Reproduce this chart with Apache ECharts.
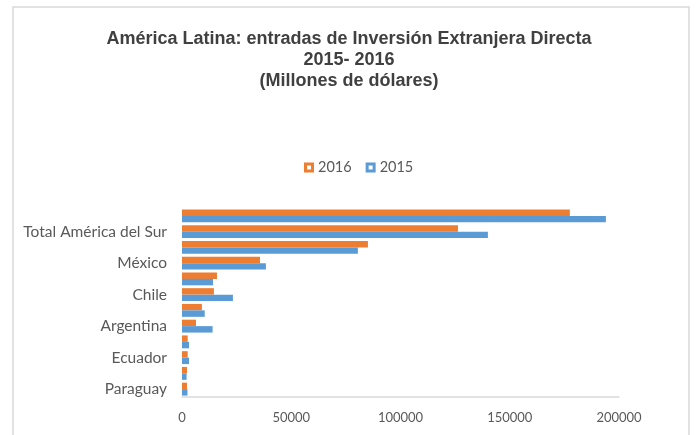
<!DOCTYPE html>
<html>
<head>
<meta charset="utf-8">
<script src="https://cdn.jsdelivr.net/npm/echarts@6/dist/echarts.min.js"></script>
<style>
  html, body { margin: 0; padding: 0; background: #fff; }
  #chart { width: 698px; height: 435px; }
</style>
</head>
<body>
<div id="chart"></div>
<script>
// categorías de abajo hacia arriba (solo una de cada dos etiquetas es visible)
var categorias = ['Paraguay', 'Uruguay', 'Ecuador', 'Bolivia', 'Argentina', 'Perú',
    'Chile', 'Colombia', 'México', 'Brasil', 'Total América del Sur', 'América Latina y el Caribe'];
var valores2016 = [2300, 2300, 2600, 2600, 6400, 9100, 14600, 16000, 35700, 85100, 126300, 177500];
var valores2015 = [2500, 2100, 3200, 3200, 14000, 10400, 23300, 14200, 38400, 80500, 140000, 194000];
var ticksX = [0, 50000, 100000, 150000, 200000];

var myChart = echarts.init(document.getElementById('chart'));

var iconoHueco = 'path://M0,0H10V10H0Z M3,3V7H7V3Z';

var option = {
    animation: false,
    graphic: [{
        type: 'rect',
        shape: { x: 13, y: 7, width: 676, height: 440 },
        style: { fill: 'none', stroke: '#d9d9d9', lineWidth: 1.5 },
        silent: true
    }],
    title: {
        text: 'América Latina: entradas de Inversión Extranjera Directa\n2015- 2016\n(Millones de dólares)',
        left: 'center',
        top: 24,
        textStyle: {
            fontFamily: 'Liberation Sans',
            fontWeight: 'bold',
            fontSize: 18,
            lineHeight: 21,
            color: '#404040'
        }
    },
    legend: {
        top: 155,
        left: 299,
        itemWidth: 10,
        itemHeight: 10,
        itemGap: 14,
        textStyle: { fontFamily: 'Lato', fontSize: 14.5, color: '#595959', padding: [0, 0, 0, -1] },
        data: [
            { name: '2016', icon: iconoHueco },
            { name: '2015', icon: iconoHueco }
        ]
    },
    grid: { left: 182, right: 79, top: 208, bottom: 38, containLabel: false },
    xAxis: {
        type: 'value',
        min: ticksX[0],
        max: ticksX[ticksX.length - 1],
        interval: 50000,
        axisLine: { show: true, lineStyle: { color: '#d9d9d9', width: 1.5 } },
        axisTick: { show: false },
        splitLine: { show: false },
        axisLabel: {
            fontFamily: 'Lato', fontSize: 13, color: '#595959', margin: 14,
            formatter: function (v) { return String(v); }
        }
    },
    yAxis: {
        type: 'category',
        data: categorias,
        axisLine: { show: false },
        axisTick: { show: false },
        axisLabel: { interval: 1, fontFamily: 'Lato', fontSize: 15.5, color: '#595959', margin: 15 }
    },
    series: [
        {
            name: '2016',
            type: 'bar',
            data: valores2016,
            barGap: '0%',
            barCategoryGap: '18%',
            itemStyle: { color: '#ED7D31' }
        },
        {
            name: '2015',
            type: 'bar',
            data: valores2015,
            barGap: '0%',
            barCategoryGap: '18%',
            itemStyle: { color: '#5B9BD5' }
        }
    ]
};

myChart.setOption(option);
</script>
</body>
</html>
